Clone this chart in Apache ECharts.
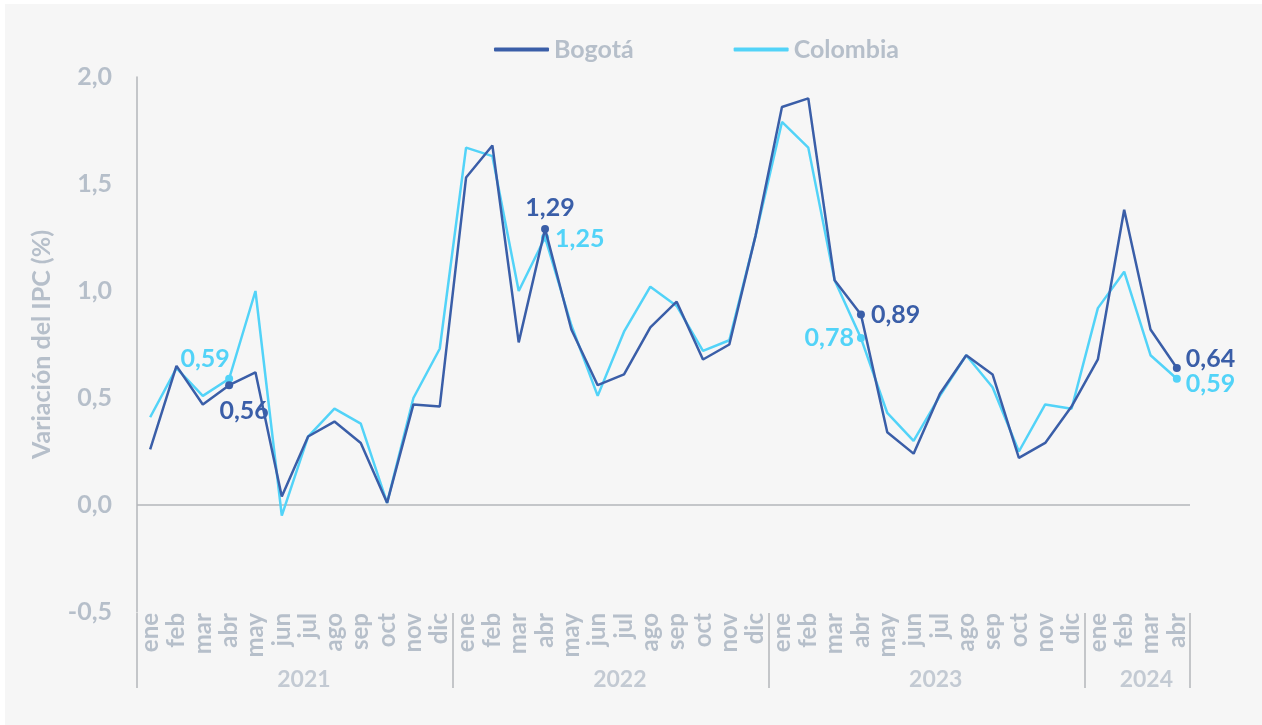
<!DOCTYPE html>
<html>
<head>
<meta charset="utf-8">
<script src="https://cdn.jsdelivr.net/npm/echarts@6/dist/echarts.min.js"></script>
<style>
html,body{margin:0;padding:0;background:#ffffff;width:1262px;height:725px;overflow:hidden;}
#panel{position:absolute;left:5px;top:4px;width:1257px;height:721px;background:#f6f6f6;}
#chart{position:absolute;left:0;top:0;width:1262px;height:725px;}
</style>
</head>
<body>
<div id="panel"></div>
<div id="chart"></div>
<script>
// ---- data ----
const months = ['ene','feb','mar','abr','may','jun','jul','ago','sep','oct','nov','dic'];
const years = ['2021','2022','2023','2024'];
const monthsPerYear = [12, 12, 12, 4];
const bogota = [
  0.26,0.65,0.47,0.56,0.62,0.04,0.32,0.39,0.29,0.01,0.47,0.46,
  1.53,1.68,0.76,1.29,0.82,0.56,0.61,0.83,0.95,0.68,0.75,1.26,
  1.86,1.90,1.05,0.89,0.34,0.24,0.52,0.70,0.61,0.22,0.29,0.46,
  0.68,1.38,0.82,0.64
];
const colombia = [
  0.41,0.64,0.51,0.59,1.00,-0.05,0.32,0.45,0.38,0.01,0.50,0.73,
  1.67,1.63,1.00,1.25,0.84,0.51,0.81,1.02,0.93,0.72,0.77,1.26,
  1.79,1.67,1.05,0.78,0.43,0.30,0.51,0.70,0.55,0.25,0.47,0.45,
  0.92,1.09,0.70,0.59
];
const yTicks = [-0.5, 0, 0.5, 1.0, 1.5, 2.0];

// ---- build ----
const categories = [];
monthsPerYear.forEach((n, yi) => { for (let m = 0; m < n; m++) categories.push(months[m] + ' ' + years[yi]); });
const highlighted = [3, 15, 27, 39];
const BOG = '#3a5ea8';
const COL = '#52d3f8';
const GRAY = '#b6bfca';
const LINEGRAY = '#b3b6ba';
const FONT = 'Lato';
const fmt = v => v.toFixed(2).replace('.', ',');

const bogLabels = {
  3:  {position:'bottom', distance:9, offset:[15,0]},
  15: {position:'top', distance:5, offset:[5,0]},
  27: {position:'right', distance:6, offset:[0,0]},
  39: {position:'right', distance:5, offset:[0,-9]}
};
const colLabels = {
  3:  {position:'top', distance:3, offset:[-24,0]},
  15: {position:'right', distance:6, offset:[0,1]},
  27: {position:'left', distance:3, offset:[0,0]},
  39: {position:'right', distance:5, offset:[0,5]}
};
function buildData(arr, labels, color) {
  return arr.map((v, i) => {
    if (highlighted.indexOf(i) < 0) return {value: v, symbolSize: 0};
    const l = labels[i];
    return {
      value: v, symbol: 'circle', symbolSize: 8,
      itemStyle: {color: color},
      label: {show: true, position: l.position, distance: l.distance, offset: l.offset,
        formatter: fmt(v), color: color, fontFamily: FONT, fontWeight: 'bold', fontSize: 25}
    };
  });
}

// year band
const bounds = [0];
monthsPerYear.forEach(n => bounds.push(bounds[bounds.length-1] + n));
const yearPts = years.map((y, i) => ({value: [(bounds[i] + bounds[i+1]) / 2, 0.13], name: y}));

const chart = echarts.init(document.getElementById('chart'), null, {renderer: 'canvas'});
chart.setOption({
  animation: false,
  backgroundColor: 'transparent',
  legend: {
    left: 489, top: 32,
    itemWidth: 55, itemHeight: 4, itemGap: 100,
    icon: 'roundRect',
    textStyle: {color: GRAY, fontFamily: FONT, fontWeight: 'bold', fontSize: 25},
    data: ['Bogotá', 'Colombia']
  },
  grid: [
    {left: 137, top: 77, width: 1053, height: 535, containLabel: false},
    {left: 137, top: 613, width: 1053, height: 75, containLabel: false}
  ],
  xAxis: [
    {
      type: 'category', gridIndex: 0, data: categories, boundaryGap: true,
      axisLine: {show: false}, axisTick: {show: false},
      axisLabel: {
        interval: 0, rotate: 90, margin: 1,
        formatter: v => v.split(' ')[0],
        color: GRAY, fontFamily: FONT, fontWeight: 'bold', fontSize: 24
      }
    },
    {
      type: 'value', gridIndex: 1, min: 0, max: bounds[bounds.length-1],
      show: false
    }
  ],
  yAxis: [
    {
      type: 'value', gridIndex: 0, min: yTicks[0], max: yTicks[yTicks.length-1], interval: 0.5,
      name: 'Variación del IPC (%)', nameLocation: 'middle', nameGap: 83,
      nameTextStyle: {color: GRAY, fontFamily: FONT, fontWeight: 'bold', fontSize: 25},
      axisLine: {show: true, lineStyle: {color: LINEGRAY, width: 1.5}},
      axisTick: {show: false}, splitLine: {show: false},
      axisLabel: {margin: 25, color: GRAY, fontFamily: FONT, fontWeight: 'bold', fontSize: 25,
        formatter: v => v.toFixed(1).replace('.', ',')}
    },
    {type: 'value', gridIndex: 1, min: 0, max: 1, show: false}
  ],
  series: [
    {
      name: 'Bogotá', type: 'line', xAxisIndex: 0, yAxisIndex: 0,
      data: buildData(bogota, bogLabels, BOG),
      symbol: 'circle', showSymbol: true,
      lineStyle: {color: BOG, width: 2.5}, itemStyle: {color: BOG},
      z: 3,
      markLine: {
        silent: true, symbol: ['none','none'], label: {show: false},
        lineStyle: {color: LINEGRAY, width: 1.5, type: 'solid'},
        data: [{yAxis: 0}], z: 1
      }
    },
    {
      name: 'Colombia', type: 'line', xAxisIndex: 0, yAxisIndex: 0,
      data: buildData(colombia, colLabels, COL),
      symbol: 'circle', showSymbol: true,
      lineStyle: {color: COL, width: 2.5}, itemStyle: {color: COL},
      z: 2
    },
    {
      name: 'years', type: 'scatter', xAxisIndex: 1, yAxisIndex: 1,
      data: yearPts, symbolSize: 1, itemStyle: {color: 'rgba(0,0,0,0)'},
      label: {show: true, position: 'inside', offset: [9, 1], formatter: p => p.name,
        color: GRAY, fontFamily: FONT, fontWeight: 'bold', fontSize: 23},
      markLine: {
        silent: true, symbol: ['none','none'], label: {show: false},
        lineStyle: {color: LINEGRAY, width: 1.5, type: 'solid'},
        data: bounds.map(b => ({xAxis: b}))
      }
    }
  ]
});
</script>
</body>
</html>
